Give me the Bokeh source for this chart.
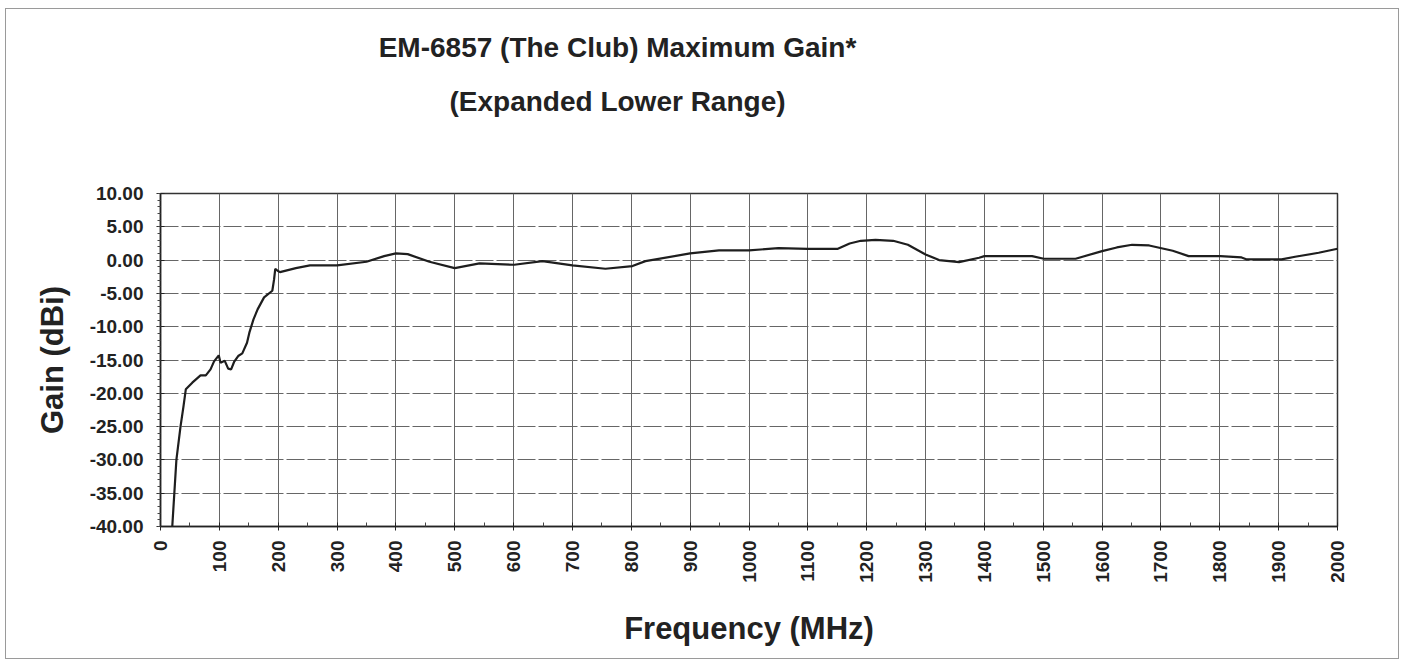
import math
from bokeh.plotting import figure
from bokeh.models import Range1d, FixedTicker, Title
from bokeh.embed import file_html
from bokeh.resources import INLINE

# ---------------- data ----------------
title_line1 = "EM-6857 (The Club) Maximum Gain*"
title_line2 = "(Expanded Lower Range)"
x_label = "Frequency (MHz)"
y_label = "Gain (dBi)"

x_ticks = [0, 100, 200, 300, 400, 500, 600, 700, 800, 900, 1000,
           1100, 1200, 1300, 1400, 1500, 1600, 1700, 1800, 1900, 2000]
y_ticks = [-40, -35, -30, -25, -20, -15, -10, -5, 0, 5, 10]
y_tick_labels = ["-40.00", "-35.00", "-30.00", "-25.00", "-20.00", "-15.00",
                 "-10.00", "-5.00", "0.00", "5.00", "10.00"]

freq_mhz = [20, 27, 34, 39, 43, 54, 68, 77, 85, 91, 99, 102, 109, 115, 120,
            125, 132, 139, 147, 151, 158, 165, 176, 190, 193, 195, 199, 203,
            230, 254, 300, 350, 380, 400, 420, 457, 500, 542, 601, 649, 700,
            756, 802, 824, 900, 949, 1000, 1050, 1100, 1151, 1171, 1190, 1215,
            1245, 1270, 1300, 1323, 1357, 1391, 1400, 1481, 1501, 1555, 1600,
            1625, 1651, 1680, 1720, 1747, 1801, 1837, 1846, 1905, 1928, 1968,
            2000]
gain_dbi = [-40, -30, -25, -22, -19.4, -18.4, -17.3, -17.3, -16.4, -15.2,
            -14.3, -15.4, -15.1, -16.3, -16.4, -15.3, -14.4, -14.0, -12.4,
            -10.9, -8.9, -7.4, -5.6, -4.6, -2.9, -1.3, -1.6, -1.8, -1.2, -0.8,
            -0.8, -0.25, 0.6, 1.0, 0.9, -0.25, -1.2, -0.5, -0.7, -0.15, -0.8,
            -1.3, -0.9, -0.15, 1.0, 1.45, 1.45, 1.8, 1.7, 1.7, 2.5, 2.9, 3.05,
            2.9, 2.3, 0.85, 0.0, -0.3, 0.35, 0.6, 0.6, 0.2, 0.2, 1.35, 1.9,
            2.3, 2.2, 1.4, 0.6, 0.6, 0.4, 0.1, 0.1, 0.5, 1.1, 1.7]

# ---------------- figure ----------------
W, H = 1394, 651
FRAME_L, FRAME_R, FRAME_T, FRAME_B = 154, 1331, 184, 517
FONT = "Liberation Sans"
INK = "#222222"

p = figure(width=W, height=H, output_backend="svg", toolbar_location=None,
           x_range=Range1d(0, 2000), y_range=Range1d(-40, 10),
           min_border_left=FRAME_L, min_border_right=W - FRAME_R,
           min_border_top=FRAME_T, min_border_bottom=H - FRAME_B,
           background_fill_color="white", border_fill_color="white")
p.styles = {"border": "1px solid #9a9a9a", "margin-left": "5px",
            "margin-top": "8px"}

p.outline_line_color = "#333333"
p.outline_line_width = 1.5

p.line(freq_mhz, gain_dbi, line_color="#1e1e1e", line_width=2.2)

# axes / ticks
p.xaxis.ticker = FixedTicker(ticks=x_ticks,
                             minor_ticks=[t + 50 for t in x_ticks[:-1]])
p.yaxis.ticker = FixedTicker(ticks=y_ticks,
                             minor_ticks=list(range(-40, 11)))
p.yaxis.major_label_overrides = {v: s for v, s in zip(y_ticks, y_tick_labels)}
p.xaxis.major_label_overrides = {v: str(v) for v in x_ticks}

for ax in (p.xaxis[0], p.yaxis[0]):
    ax.axis_line_color = "#222222"
    ax.axis_line_width = 1.5
    ax.major_tick_line_color = "#222222"
    ax.minor_tick_line_color = "#444444"
    ax.major_tick_in = 4
    ax.major_tick_out = 4
    ax.major_label_text_font = FONT
    ax.major_label_text_font_style = "bold"
    ax.major_label_text_font_size = "19px"
    ax.major_label_text_color = INK
    ax.axis_label_text_font = FONT
    ax.axis_label_text_font_style = "bold"
    ax.axis_label_text_color = INK

p.xaxis.minor_tick_in = 4
p.xaxis.minor_tick_out = 0
p.yaxis.minor_tick_in = 0
p.yaxis.minor_tick_out = 3
p.xaxis.major_label_orientation = math.pi / 2
p.xaxis.major_label_standoff = 10
p.yaxis.major_label_standoff = 13

p.xaxis.axis_label = x_label
p.yaxis.axis_label = y_label
p.xaxis.axis_label_text_font_size = "31px"
p.yaxis.axis_label_text_font_size = "31px"
p.xaxis.axis_label_standoff = 25
p.yaxis.axis_label_standoff = 17

# grid
p.xgrid.grid_line_color = "#666666"
p.ygrid.grid_line_color = "#666666"
p.xgrid.grid_line_width = 1
p.ygrid.grid_line_width = 1
p.ygrid.grid_line_dash = "18 3"

# title: panels stack outward from the frame (first added = nearest frame)
TITLE_SIZE = 28
title_center = 611 - FRAME_L          # horizontal centre, px from frame left
p.add_layout(Title(text=" ", text_font_size="2px", standoff=63,
                   text_color="white"), "above")          # empty spacer
for txt, em_width, standoff in ((title_line2, 12.0, 20),
                                (title_line1, 17.06, 22)):
    p.add_layout(Title(text=txt, align="left",
                       offset=title_center - em_width * TITLE_SIZE / 2,
                       standoff=standoff, text_font=FONT,
                       text_font_style="bold",
                       text_font_size=f"{TITLE_SIZE}px", text_color=INK),
                 "above")

open("out.html", "w").write(file_html(p, INLINE))
